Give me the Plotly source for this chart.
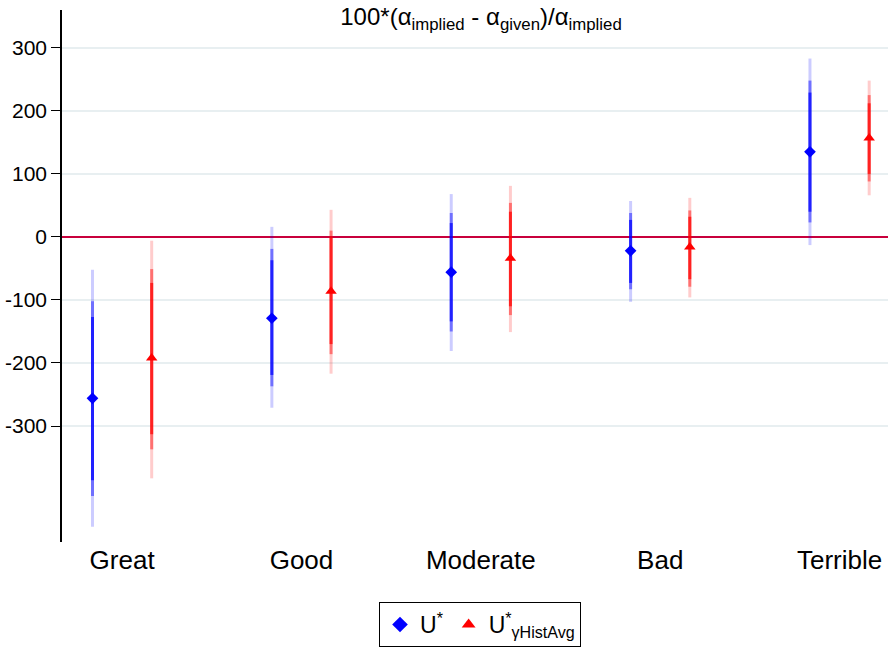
import plotly.graph_objects as go

categories = ["Great", "Good", "Moderate", "Bad", "Terrible"]

# U* (blue)
u_point = [-256, -129, -56, -22, 135]
u_lo99 = [-460, -271, -181, -103, -13]
u_lo95 = [-411, -237, -150, -83, 23]
u_lo90 = [-386, -219, -134, -73, 40]
u_hi90 = [-127, -37, 22, 27, 229]
u_hi95 = [-102, -19, 38, 38, 248]
u_hi99 = [-52, 16, 68, 57, 283]

# U*_gammaHistAvg (red)
r_point = [-192, -86, -34, -16, 157]
r_lo99 = [-383, -217, -151, -96, 66]
r_lo95 = [-337, -186, -124, -79, 88]
r_lo90 = [-313, -170, -110, -67, 100]
r_hi90 = [-73, -1, 40, 32, 212]
r_hi95 = [-51, 10, 54, 42, 225]
r_hi99 = [-6, 43, 81, 62, 248]

y_ticks = [-300, -200, -100, 0, 100, 200, 300]

offset = 0.165
xb = [i - offset for i in range(len(categories))]
xr = [i + offset for i in range(len(categories))]

def segs(xs, lo, hi):
    X, Y = [], []
    for x, a, b in zip(xs, lo, hi):
        X += [x, x, None]
        Y += [a, b, None]
    return X, Y

fig = go.Figure()

for xs, lo99, lo95, lo90, hi90, hi95, hi99, rgb in [
    (xb, u_lo99, u_lo95, u_lo90, u_hi90, u_hi95, u_hi99, "0,0,255"),
    (xr, r_lo99, r_lo95, r_lo90, r_hi90, r_hi95, r_hi99, "255,0,0"),
]:
    for lo, hi, a in [(lo99, hi99, 0.2), (lo95, hi95, 0.45), (lo90, hi90, 0.7)]:
        X, Y = segs(xs, lo, hi)
        fig.add_trace(go.Scatter(x=X, y=Y, mode="lines", showlegend=False,
                                 hoverinfo="skip",
                                 line=dict(color=f"rgba({rgb},{a})", width=3)))

fig.add_trace(go.Scatter(x=xb, y=u_point, mode="markers", name="U<sup>*</sup>",
                         marker=dict(symbol="diamond", color="blue", size=9)))
fig.add_trace(go.Scatter(x=xr, y=r_point, mode="markers",
                         name="U<sup>*</sup><sub>γHistAvg</sub>",
                         marker=dict(symbol="triangle-up", color="red", size=10)))

fig.update_layout(
    width=888, height=649,
    margin=dict(l=62, r=0, t=10, b=107, autoexpand=False),
    paper_bgcolor="white", plot_bgcolor="white",
    font=dict(family="Liberation Sans, Arial, Helvetica", color="black"),
    title=dict(text="100*(α<sub>implied</sub> - α<sub>given</sub>)/α<sub>implied</sub>",
               x=481/888, xanchor="center", y=1 - 17/649, yanchor="middle",
               automargin=False,
               font=dict(size=24, color="black")),
    xaxis=dict(range=[-0.335, 4.27], tickvals=list(range(len(categories))),
               ticktext=categories, showgrid=False, zeroline=False,
               showline=False, ticks="", tickfont=dict(size=26),
               ticklabelstandoff=0, automargin=False),
    yaxis=dict(range=[-484, 360], tickvals=y_ticks,
               ticktext=[str(v) for v in y_ticks],
               showgrid=True, gridcolor="#e8eff1", gridwidth=2,
               zeroline=True, zerolinecolor="#c8003c", zerolinewidth=2,
               showline=True, linecolor="black", linewidth=1.5,
               ticks="outside", ticklen=9, tickcolor="black",
               tickfont=dict(size=21), automargin=False),
    legend=dict(orientation="h", xref="container", yref="container",
                x=480/888, xanchor="center", y=1 - 602/649, yanchor="top",
                bordercolor="black", borderwidth=1,
                font=dict(size=23), itemsizing="constant"),
    showlegend=True,
)

fig.write_html("out.html",
               config={"displayModeBar": False},
               post_script="document.body.style.margin='0';document.body.style.overflow='hidden';")
